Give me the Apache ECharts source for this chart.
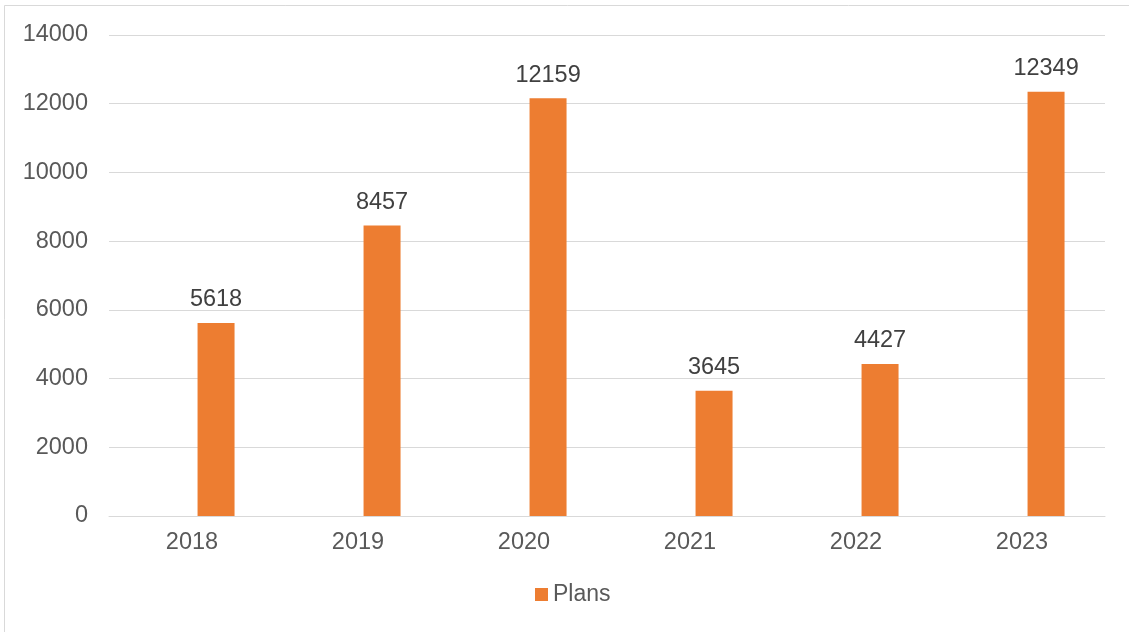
<!DOCTYPE html>
<html>
<head>
<meta charset="utf-8">
<script src="https://cdn.jsdelivr.net/npm/echarts@6/dist/echarts.min.js"></script>
<style>
html,body{margin:0;padding:0;background:#fff;}
#c{width:1129px;height:632px;}
</style>
</head>
<body>
<div id="c"></div>
<script>
var categories = ['2018', '2019', '2020', '2021', '2022', '2023'];
var plans = [5618, 8457, 12159, 3645, 4427, 12349];
var emptySeries = [null, null, null, null, null, null];
var yTicks = {min: 0, max: 14000, interval: 2000};

var chart = echarts.init(document.getElementById('c'));
chart.setOption({
  animation: false,
  backgroundColor: '#fff',
  textStyle: {fontFamily: 'Liberation Sans, Arial, sans-serif'},
  graphic: [{
    type: 'rect',
    shape: {x: 4.5, y: 5.5, width: 1140, height: 640},
    style: {fill: 'none', stroke: '#d9d9d9', lineWidth: 1},
    silent: true
  }],
  grid: {left: 109, right: 24, top: 35, bottom: 116, containLabel: false},
  legend: {
    data: ['Plans'],
    bottom: 21,
    left: 530,
    itemWidth: 13,
    itemHeight: 13,
    itemGap: 6,
    icon: 'rect',
    textStyle: {color: '#595959', fontSize: 23, fontFamily: 'Liberation Sans, Arial, sans-serif'}
  },
  xAxis: {
    type: 'category',
    data: categories,
    axisLine: {show: true, lineStyle: {color: '#d9d9d9', width: 1}},
    axisTick: {show: false},
    axisLabel: {color: '#595959', fontSize: 23.5, margin: 15}
  },
  yAxis: {
    type: 'value',
    min: yTicks.min,
    max: yTicks.max,
    interval: yTicks.interval,
    axisLine: {show: false},
    axisTick: {show: false},
    axisLabel: {color: '#595959', fontSize: 23.5, margin: 21, formatter: function (v) { return String(v); }},
    splitLine: {lineStyle: {color: '#d9d9d9', width: 1}}
  },
  series: [
    {name: 'blank', type: 'bar', data: emptySeries, barWidth: 37, barGap: '30%', itemStyle: {color: 'transparent'}},
    {
      name: 'Plans',
      type: 'bar',
      data: plans,
      barWidth: 37,
      barGap: '30%',
      itemStyle: {color: '#ED7D31'},
      label: {show: true, position: 'top', distance: 11, color: '#404040', fontSize: 23.5}
    }
  ]
});
</script>
</body>
</html>
